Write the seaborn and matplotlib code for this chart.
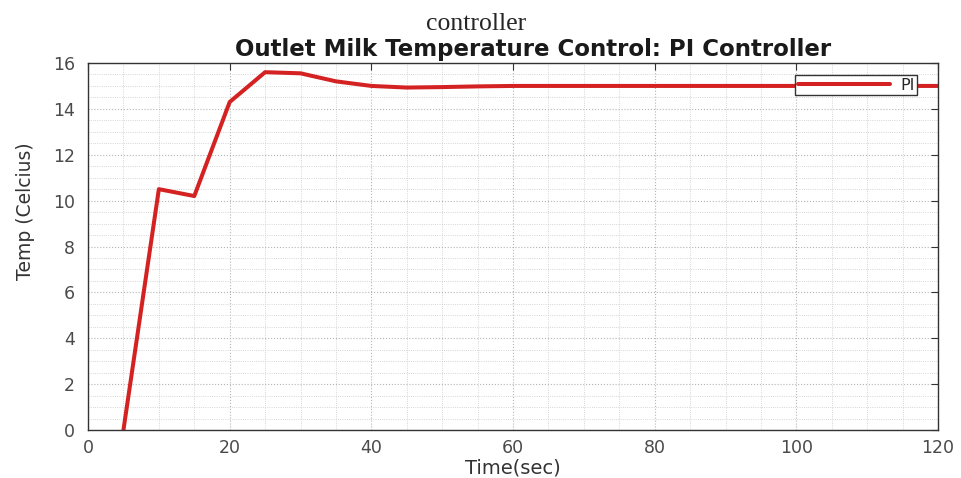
import numpy as np
import pandas as pd
import matplotlib
matplotlib.use('Agg')
import matplotlib.pyplot as plt
from matplotlib.ticker import MultipleLocator
import seaborn as sns

# values
time_sec = [5, 10, 15, 20, 25, 30, 35, 40, 45, 50, 55, 60, 70, 80, 90, 100, 110, 120]
temp_pi = [0.0, 10.5, 10.2, 14.3, 15.6, 15.55, 15.2, 15.0, 14.93, 14.95, 14.98, 15.0, 15.0, 15.0, 15.0, 15.0, 15.0, 15.0]

df = pd.DataFrame({'Time': time_sec, 'Temp': temp_pi, 'series': 'PI'})

sns.set_style('white')
plt.rcParams['font.family'] = ['DejaVu Sans']

fig = plt.figure(figsize=(9.62, 4.78), dpi=100)
ax = fig.add_axes([0.0915, 0.1004, 0.8836, 0.7678])

sns.lineplot(data=df, x='Time', y='Temp', hue='series', palette=['#d42222'],
             linewidth=2.9, ax=ax)

ax.set_xlim(0, 120)
ax.set_ylim(0, 16)
ax.xaxis.set_major_locator(MultipleLocator(20))
ax.xaxis.set_minor_locator(MultipleLocator(5))
ax.yaxis.set_major_locator(MultipleLocator(2))
ax.yaxis.set_minor_locator(MultipleLocator(0.5))
ax.grid(which='major', color='#b5b5b5', linestyle=':', linewidth=0.8)
ax.grid(which='minor', color='#c8c8c8', linestyle=':', linewidth=0.6)
ax.tick_params(which='major', direction='in', length=5, top=True, right=True,
               labelsize=12.5, colors='#333333', labelcolor='#4a4a4a')
ax.tick_params(axis='x', pad=6.5)
ax.tick_params(axis='y', pad=9.5)
ax.tick_params(which='minor', length=0)
for s in ax.spines.values():
    s.set_color('#333333')
    s.set_linewidth(1.0)

ax.set_xlabel('Time(sec)', fontsize=14, color='#333333', labelpad=1)
ax.set_ylabel('Temp (Celcius)', fontsize=13.5, color='#333333')
ax.yaxis.set_label_coords(-0.062, 0.597)
ax.set_title('Outlet Milk Temperature Control: PI Controller', fontsize=16.5,
             fontweight='bold', color='#1a1a1a', pad=5, x=0.5235)

leg = ax.legend(loc='upper right', bbox_to_anchor=(0.975, 0.967), fontsize=11.5,
                frameon=True, fancybox=False, handlelength=5.8,
                borderpad=0.15, handletextpad=0.6, borderaxespad=0)
leg.get_frame().set_edgecolor('#333333')
leg.get_frame().set_linewidth(1.0)
leg.get_frame().set_alpha(1)

fig.text(0.495, 0.937, 'controller', ha='center', va='baseline', fontsize=18.5,
         family=['Liberation Serif', 'DejaVu Serif'])

fig.savefig('out.png', dpi=100, facecolor='white')
